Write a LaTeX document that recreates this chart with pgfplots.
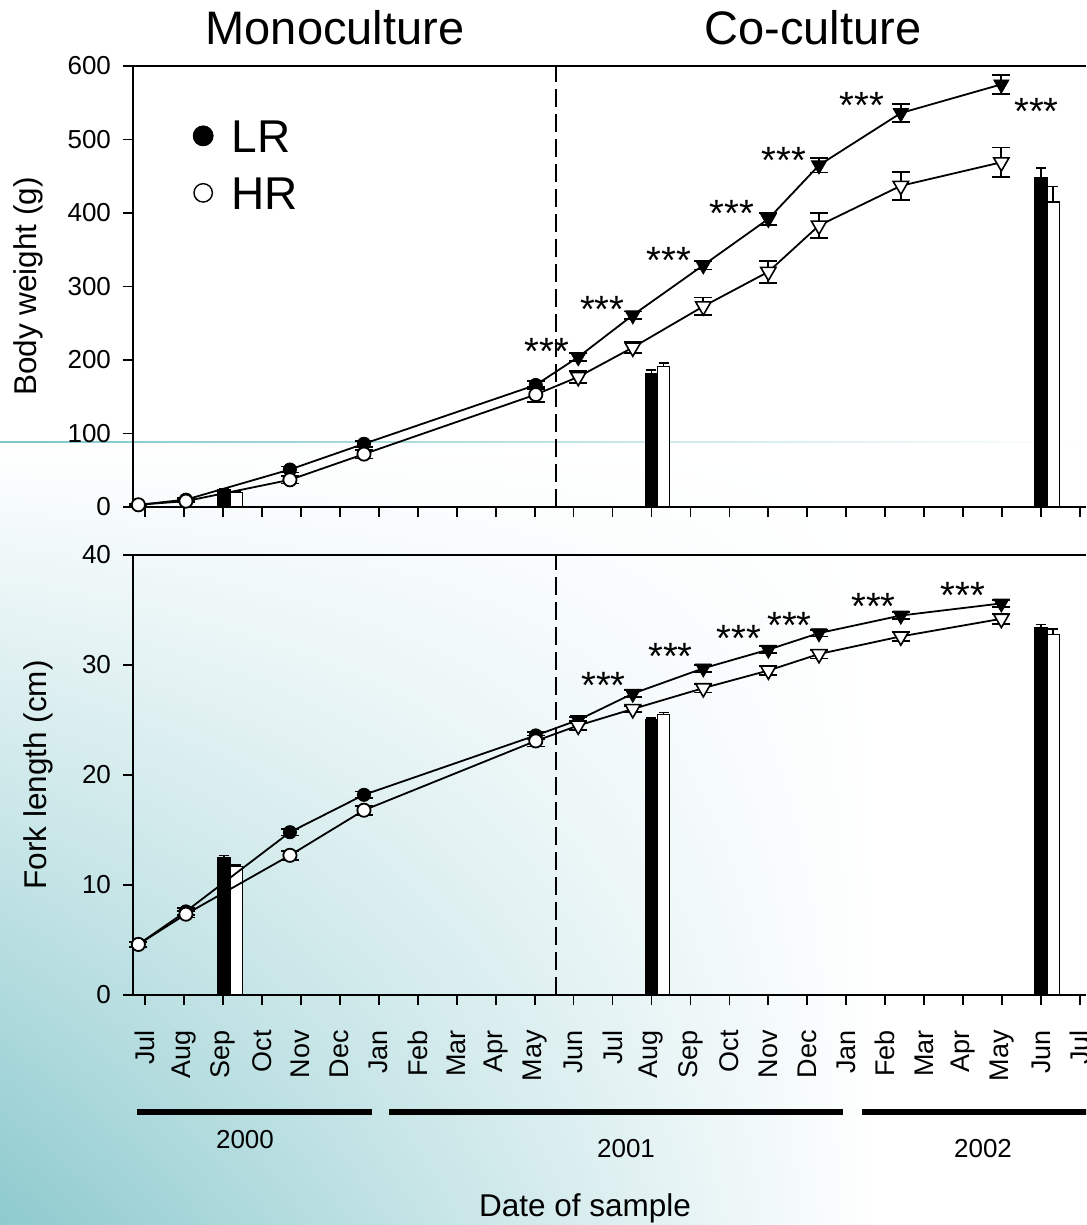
\documentclass[border=0pt]{standalone}
\usepackage{pgfplots}
\pgfplotsset{compat=1.18}
\usetikzlibrary{shadings}
\usepackage{fontspec}
\setmainfont{Liberation Sans}
\definecolor{tealbg}{HTML}{8DCACE}
\definecolor{tealline}{HTML}{7CC6CA}
\tikzset{stars/.style={font=\fontsize{19pt}{22pt}\selectfont, yshift=-4.2pt, inner sep=0pt}}
\pgfplotsset{
  myaxis/.style={
    scale only axis, width=476.5pt,
    xmin=-0.308, xmax=24.153,
    axis lines*=left,
    axis line style={line width=0.9pt, black},
    every tick/.style={black, line width=0.9pt},
    tick align=outside, major tick length=5pt,
    xtick={0,...,24}, xtick pos=left, ytick pos=left,
    clip=false,
    /pgf/number format/assume math mode=true,
    tick label style={font=\fontsize{13pt}{15.6pt}\selectfont},
    yticklabel shift=2.5pt,
    label style={font=\fontsize{15.75pt}{18.9pt}\selectfont},
  },
  lrline/.style={black, line width=0.9pt, mark=none},
  lrc/.style={only marks, mark=*, mark size=3.3pt, mark options={fill=black, draw=black}},
  hrc/.style={only marks, mark=*, mark size=3.3pt, mark options={fill=white, draw=black, line width=0.9pt}},
  lrt/.style={only marks, mark=triangle*, mark size=4.4pt, mark options={rotate=180, fill=black, draw=black}},
  hrt/.style={only marks, mark=triangle*, mark size=4.4pt, mark options={rotate=180, fill=white, draw=black, line width=0.8pt}},
  err/.style={error bars/.cd, y dir=both, y explicit, error bar style={line width=0.9pt, black}, error mark options={rotate=90, mark size=4.5pt, line width=0.9pt, black}},
  barb/.style={ybar, bar width=0.308, bar shift=0pt, fill=black, draw=black, line width=0.6pt},
  barw/.style={ybar, bar width=0.308, bar shift=0pt, fill=white, draw=black, line width=0.6pt},
  berr/.style={error bars/.cd, y dir=plus, y explicit, error bar style={line width=0.8pt, black}, error mark options={rotate=90, mark size=2.5pt, line width=0.8pt, black}},
}
\begin{document}
\begin{tikzpicture}
\path[use as bounding box] (0,0) rectangle (543pt,-612.5pt);
\clip (0,0) rectangle (543pt,-612.5pt);
\fill[white] (0,0) rectangle (543pt,-612.5pt);
\shade[lower left=tealbg, upper left=white, upper right=white, lower right=white] (0,-221pt) rectangle (440pt,-612.5pt);
\shade[left color=tealline, right color=white] (0,-220.6pt) rectangle (543pt,-221.3pt);

% ---------------- upper axis ----------------
\begin{axis}[myaxis,
  at={(66.5pt,-253.5pt)}, anchor=south west, height=220.5pt,
  ymin=0, ymax=600, ytick={0,100,...,600},
  xticklabels={},
  ylabel={Body weight (g)},
  ylabel style={at={(axis description cs:-0.110,0.5)}, anchor=center},
  legend style={draw=none, fill=none, at={(axis description cs:0.056,0.889)}, anchor=north west,
    font=\fontsize{23pt}{27.6pt}\selectfont,
    nodes={inner sep=0pt, text height=16.5pt, text depth=0pt}, row sep=12pt,
    /tikz/every odd column/.append style={column sep=9pt}},
  legend cell align=left,
]
\addlegendimage{legend image code/.code={\fill[black] (0pt,0pt) circle (5pt);}}
\addlegendentry{LR}
\addlegendimage{legend image code/.code={\draw[black, line width=0.7pt, fill=white] (0pt,0pt) circle (4.6pt);}}
\addlegendentry{HR}
% bars
\addplot[barb, forget plot, berr] coordinates {(2.03,23) +- (0,2) (13.0,182) +- (0,4) (23.0,448) +- (0,13)};
\addplot[barw, forget plot, berr] coordinates {(2.34,20) +- (0,1) (13.31,191) +- (0,5) (23.31,415) +- (0,21)};
% lines
\addplot[lrline, forget plot] coordinates {(-0.17,3) (1.05,10) (3.72,51) (5.62,86) (10.03,166) (11.12,204) (12.52,261) (14.33,329) (16.0,392) (17.3,465) (19.4,536) (21.98,575)};
\addplot[lrline, forget plot] coordinates {(-0.17,3) (1.05,8) (3.72,37) (5.62,72) (10.03,153) (11.12,177) (12.52,217) (14.33,273) (16.0,320) (17.3,383) (19.4,437) (21.98,469)};
% marks with error bars
\addplot[lrc, forget plot, err] coordinates {(-0.17,3) +- (0,1) (1.05,10) +- (0,2) (3.72,51) +- (0,4) (5.62,86) +- (0,4) (10.03,166) +- (0,5)};
\addplot[hrc, forget plot, err] coordinates {(-0.17,3) +- (0,1) (1.05,8) +- (0,2) (3.72,37) +- (0,5) (5.62,72) +- (0,6) (10.03,153) +- (0,10)};
\addplot[lrt, forget plot, err] coordinates {(11.12,204) +- (0,5) (12.52,261) +- (0,5) (14.33,329) +- (0,6) (16.0,392) +- (0,8) (17.3,465) +- (0,10) (19.4,536) +- (0,12) (21.98,575) +- (0,13)};
\addplot[hrt, forget plot, err] coordinates {(11.12,177) +- (0,8) (12.52,217) +- (0,8) (14.33,273) +- (0,12) (16.0,320) +- (0,15) (17.3,383) +- (0,17) (19.4,437) +- (0,19) (21.98,469) +- (0,20)};
\draw[line width=0.9pt] (rel axis cs:0,1) -- (rel axis cs:1,1);
\draw[line width=0.7pt, dash pattern=on 9pt off 3.5pt] (axis cs:10.55,0) -- (axis cs:10.55,600);
\node[stars] at (axis cs:10.32,223) {***};
\node[stars] at (axis cs:11.74,280) {***};
\node[stars] at (axis cs:13.45,347) {***};
\node[stars] at (axis cs:15.07,411) {***};
\node[stars] at (axis cs:16.40,483) {***};
\node[stars] at (axis cs:18.40,558) {***};
\node[stars] at (axis cs:22.88,549) {***};
\end{axis}

% ---------------- lower axis ----------------
\begin{axis}[myaxis,
  at={(66.5pt,-497.5pt)}, anchor=south west, height=220pt,
  ymin=0, ymax=40, ytick={0,10,...,40},
  xticklabels={Jul,Aug,Sep,Oct,Nov,Dec,Jan,Feb,Mar,Apr,May,Jun,Jul,Aug,Sep,Oct,Nov,Dec,Jan,Feb,Mar,Apr,May,Jun,Jul},
  xticklabel style={rotate=90, anchor=east, font=\fontsize{13.5pt}{16pt}\selectfont},
  xticklabel shift=9pt,
  ylabel={Fork length (cm)},
  ylabel style={at={(axis description cs:-0.0997,0.5)}, anchor=center},
  xlabel={Date of sample},
  xlabel style={at={(axis description cs:0.4743,-0.486)}, anchor=center},
]
\addplot[barb, berr] coordinates {(2.03,12.5) +- (0,0.2) (13.0,25.0) +- (0,0.2) (23.0,33.4) +- (0,0.3)};
\addplot[barw, berr] coordinates {(2.34,11.7) +- (0,0.1) (13.31,25.5) +- (0,0.2) (23.31,32.8) +- (0,0.45)};
\addplot[lrline] coordinates {(-0.17,4.6) (1.05,7.6) (3.72,14.8) (5.62,18.2) (10.03,23.6) (11.12,25.0) (12.52,27.4) (14.33,29.7) (16.0,31.4) (17.3,32.9) (19.4,34.5) (21.98,35.6)};
\addplot[lrline] coordinates {(-0.17,4.6) (1.05,7.35) (3.72,12.7) (5.62,16.8) (10.03,23.1) (11.12,24.5) (12.52,26.0) (14.33,27.9) (16.0,29.5) (17.3,31.0) (19.4,32.6) (21.98,34.2)};
\addplot[lrc, err] coordinates {(-0.17,4.6) +- (0,0.2) (1.05,7.6) +- (0,0.3) (3.72,14.8) +- (0,0.3) (5.62,18.2) +- (0,0.3) (10.03,23.6) +- (0,0.3)};
\addplot[hrc, err] coordinates {(-0.17,4.6) +- (0,0.2) (1.05,7.35) +- (0,0.3) (3.72,12.7) +- (0,0.4) (5.62,16.8) +- (0,0.4) (10.03,23.1) +- (0,0.5)};
\addplot[lrt, err] coordinates {(11.12,25.0) +- (0,0.3) (12.52,27.4) +- (0,0.3) (14.33,29.7) +- (0,0.3) (16.0,31.4) +- (0,0.3) (17.3,32.9) +- (0,0.3) (19.4,34.5) +- (0,0.3) (21.98,35.6) +- (0,0.3)};
\addplot[hrt, err] coordinates {(11.12,24.5) +- (0,0.4) (12.52,26.0) +- (0,0.3) (14.33,27.9) +- (0,0.4) (16.0,29.5) +- (0,0.4) (17.3,31.0) +- (0,0.4) (19.4,32.6) +- (0,0.4) (21.98,34.2) +- (0,0.45)};
\draw[line width=0.9pt] (rel axis cs:0,1) -- (rel axis cs:1,1);
\draw[line width=0.7pt, dash pattern=on 9pt off 3.5pt] (axis cs:10.55,0) -- (axis cs:10.55,40);
\node[stars] at (axis cs:11.77,28.94) {***};
\node[stars] at (axis cs:13.49,31.5) {***};
\node[stars] at (axis cs:15.24,33.18) {***};
\node[stars] at (axis cs:16.54,34.4) {***};
\node[stars] at (axis cs:18.70,36.06) {***};
\node[stars] at (axis cs:21.00,37.12) {***};
\end{axis}

% titles and year bars
\node[anchor=base, font=\fontsize{23.5pt}{28pt}\selectfont] at (167.5pt,-22.5pt) {Monoculture};
\node[anchor=base, font=\fontsize{23.5pt}{28pt}\selectfont] at (406.5pt,-22.5pt) {Co-culture};
\draw[line width=3pt] (68.5pt,-556pt) -- (186pt,-556pt);
\draw[line width=3pt] (194.5pt,-556pt) -- (421.5pt,-556pt);
\draw[line width=3pt] (431pt,-556pt) -- (548pt,-556pt);
\node[anchor=base, font=\fontsize{13pt}{15.6pt}\selectfont] at (122.5pt,-574.2pt) {2000};
\node[anchor=base, font=\fontsize{13pt}{15.6pt}\selectfont] at (313pt,-578.7pt) {2001};
\node[anchor=base, font=\fontsize{13pt}{15.6pt}\selectfont] at (491.5pt,-578.7pt) {2002};
\end{tikzpicture}
\end{document}
